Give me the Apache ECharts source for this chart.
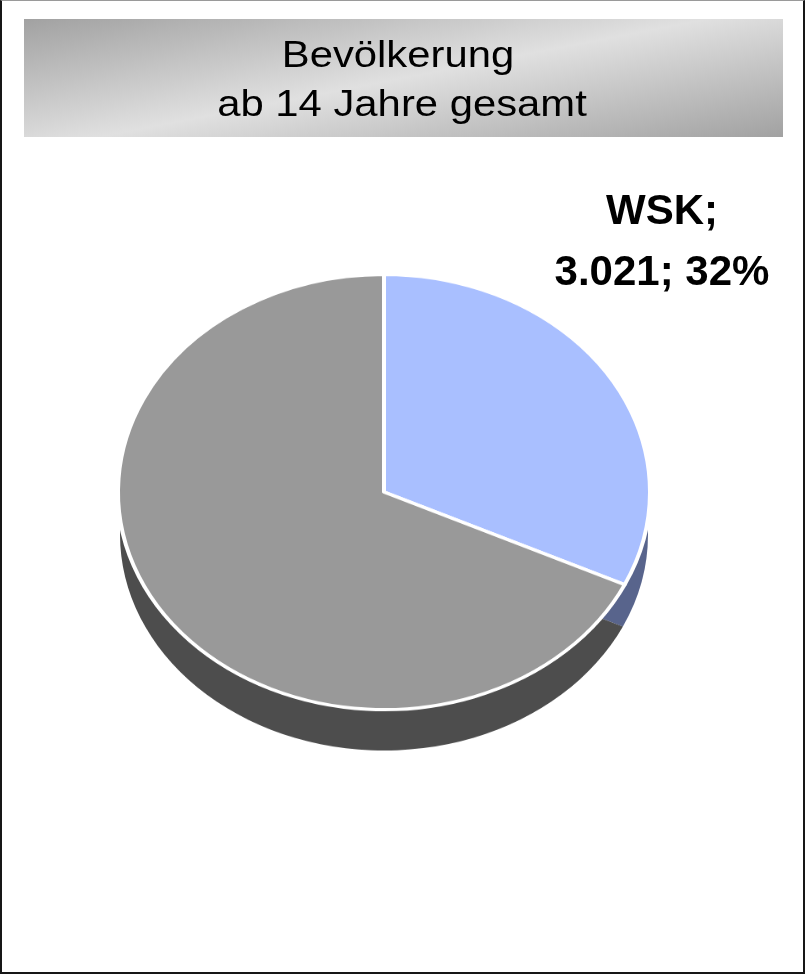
<!DOCTYPE html>
<html>
<head>
<meta charset="utf-8">
<script src="https://cdn.jsdelivr.net/npm/echarts@6/dist/echarts.min.js"></script>
<style>
  html, body { margin: 0; padding: 0; background: #fff; }
  #wrap { position: relative; width: 805px; height: 974px; overflow: hidden; }
  #pie { position: absolute; left: 0; top: 0; width: 805px; height: 974px;
         transform: scaleY(0.818); transform-origin: 0 492px; }
  #main { position: absolute; left: 0; top: 0; width: 805px; height: 974px; }
  #frame { position: absolute; left: 0; top: 0; width: 805px; height: 974px; box-sizing: border-box;
           border-top: 1px solid #9a9a9a; border-left: 2px solid #161616;
           border-right: 2px solid #161616; border-bottom: 2px solid #161616; pointer-events: none; }
</style>
</head>
<body>
<div id="wrap">
  <div id="pie"></div>
  <div id="main"></div>
  <div id="frame"></div>
</div>
<script>
// data
const categories = ['WSK', 'Sonstige']
const values = [3021, 6420]
const titleLines = ['Bevölkerung', 'ab 14 Jahre gesamt']
const topColors = ['#a9bfff', '#999999']
const sideColors = ['#58648c', '#4d4d4d']

const FONT = '"Liberation Sans", Arial, sans-serif'

function fmtDe (n) {
  return String(n).replace(/\B(?=(\d{3})+(?!\d))/g, '.')
}

// pie (drawn in a vertically squashed layer so it looks tilted)
const pieChart = echarts.init(document.getElementById('pie'), null, {renderer: 'canvas'})
const cx = 384
const cy = 492
const depth = 52 // side depth before squashing
const r = 266

function pieData (colors) {
  return categories.map((name, i) => ({name: name, value: values[i], itemStyle: {color: colors[i]}}))
}

pieChart.setOption({
  animation: false,
  series: [
    {
      type: 'pie',
      silent: true,
      center: [cx, cy + depth],
      radius: r - 2,
      startAngle: 90,
      clockwise: true,
      label: {show: false},
      labelLine: {show: false},
      itemStyle: {borderWidth: 0},
      data: pieData(sideColors),
      z: 1
    },
    {
      type: 'pie',
      silent: true,
      center: [cx, cy],
      radius: r,
      startAngle: 90,
      clockwise: true,
      label: {show: false},
      labelLine: {show: false},
      itemStyle: {borderColor: '#ffffff', borderWidth: 4},
      data: pieData(topColors),
      z: 2
    }
  ]
})

// texts
const total = values.reduce((a, b) => a + b, 0)
const pct = Math.round(values[0] / total * 100)
const labelText = categories[0] + ';\n' + fmtDe(values[0]) + '; ' + pct + '%'

const chart = echarts.init(document.getElementById('main'))
chart.setOption({
  animation: false,
  graphic: [
    {
      type: 'rect',
      shape: {x: 24, y: 19, width: 759, height: 118},
      style: {
        // light band runs from lower left to upper right
        fill: new echarts.graphic.LinearGradient(366, -46, 415, 207, [
          {offset: 0, color: '#a2a2a2'},
          {offset: 0.5, color: '#e0e0e0'},
          {offset: 1, color: '#a2a2a2'}
        ], true)
      },
      z: 1
    },
    {
      type: 'text',
      x: 398,
      y: 57,
      scaleX: 1.13,
      style: {text: titleLines[0], fill: '#000', font: '37px ' + FONT, textAlign: 'center', textVerticalAlign: 'middle'},
      z: 2
    },
    {
      type: 'text',
      x: 402,
      y: 106,
      scaleX: 1.13,
      style: {text: titleLines[1], fill: '#000', font: '37px ' + FONT, textAlign: 'center', textVerticalAlign: 'middle'},
      z: 2
    },
    {
      type: 'text',
      x: 662,
      y: 243,
      style: {
        text: labelText,
        fill: '#000',
        font: 'bold 42px ' + FONT,
        lineHeight: 61,
        textAlign: 'center',
        textVerticalAlign: 'middle'
      },
      z: 2
    }
  ]
})
</script>
</body>
</html>
